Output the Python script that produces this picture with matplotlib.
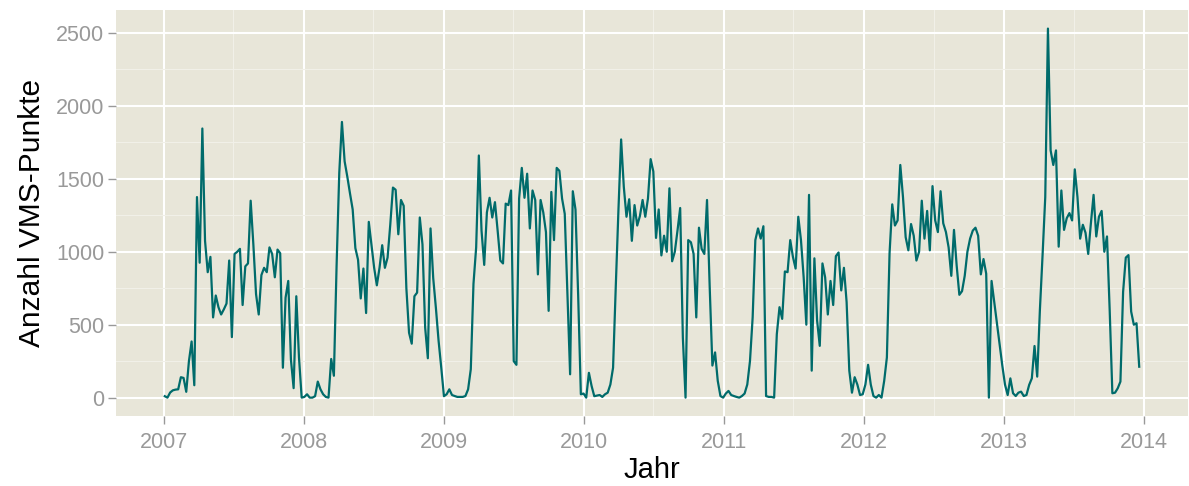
import numpy as np
import pandas as pd
import matplotlib
matplotlib.use("Agg")
import matplotlib.pyplot as plt
import matplotlib.dates as mdates
from matplotlib.ticker import MultipleLocator

# weekly VMS point counts (one list per stretch of ~a year)
v2007 = [10, 0, 35, 50, 55, 57, 140, 135, 40, 250, 385, 85, 1375, 925, 1845, 1075,
         860, 965, 550, 700, 620, 570, 605, 645, 940, 415, 985, 1000, 1020, 635, 900,
         920, 1350, 1050, 710, 570, 840, 890, 860, 1030, 985, 825, 1015, 990, 205, 685,
         800, 260, 65, 695, 275, 0]
v2008 = [5, 23, 0, 0, 10, 110, 57, 23, 5, 0, 265, 150, 900, 1540, 1890, 1620, 1515,
         1400, 1290, 1025, 945, 680, 885, 580, 1205, 1050, 890, 770, 890, 1045, 890, 960,
         1185, 1440, 1425, 1120, 1355, 1315, 750, 445, 370, 695, 720, 1235, 1050, 480,
         270, 1160, 820, 615, 390, 205, 10]
v2009 = [23, 57, 18, 11, 5, 5, 5, 11, 57, 195, 780, 1030, 1660, 1145, 910, 1270, 1370,
         1235, 1340, 1145, 940, 920, 1330, 1320, 1420, 250, 225, 1365, 1575, 1370, 1535,
         1160, 1420, 1355, 845, 1355, 1270, 1135, 595, 1410, 1080, 1575, 1555, 1365,
         1260, 700, 160, 1415, 1290, 700, 23, 28]
v2010 = [0, 170, 80, 10, 14, 18, 5, 23, 34, 90, 205, 757, 1285, 1770, 1445, 1240, 1360,
         1075, 1320, 1180, 1245, 1355, 1240, 1365, 1635, 1550, 1095, 1290, 975, 1110,
         1000, 1435, 935, 1000, 1145, 1300, 410, 0, 1080, 1065, 985, 550, 1165, 1020,
         985, 1355, 757, 220, 310, 115, 11]
v2011 = [0, 28, 46, 18, 11, 5, 0, 11, 28, 90, 250, 550, 1080, 1160, 1090, 1175, 11, 5,
         5, 0, 435, 620, 540, 865, 860, 1080, 965, 885, 1240, 1080, 825, 500, 1390, 185,
         955, 530, 355, 920, 825, 570, 800, 635, 970, 995, 735, 890, 655, 185, 34, 140,
         90, 18]
v2012 = [23, 90, 225, 90, 11, 0, 18, 0, 115, 275, 990, 1325, 1180, 1215, 1595, 1375,
         1100, 1010, 1190, 1110, 940, 1000, 1350, 1090, 1280, 1010, 1450, 1215, 1135,
         1415, 1195, 1135, 1030, 835, 1150, 905, 705, 730, 835, 1000, 1090, 1145, 1165,
         1110, 845, 950, 850, 0, 800, 655, 505, 365, 220]
v2013 = [90, 18, 132, 30, 11, 34, 41, 11, 18, 87, 132, 354, 144, 600, 977, 1375, 2530,
         1695, 1595, 1695, 1035, 1420, 1150, 1230, 1265, 1215, 1565, 1375, 1090, 1185,
         1130, 985, 1195, 1390, 1105, 1240, 1280, 1000, 1105, 600, 30, 34, 64, 110, 725,
         960, 977, 590, 500, 510, 212]

values = v2007 + v2008 + v2009 + v2010 + v2011 + v2012 + v2013
dates = pd.date_range("2007-01-04", periods=len(values), freq="7D")

bg = "#E8E6D9"
minor_c = "#F1F0E8"
tick_c = "#999999"

plt.rcParams["font.family"] = ["Liberation Sans", "DejaVu Sans"]

fig = plt.figure(figsize=(11.89, 4.86), dpi=100)
ax = fig.add_axes([0.0976, 0.144, 0.9015, 0.835])
ax.set_facecolor(bg)
for s in ax.spines.values():
    s.set_visible(False)

ax.plot(dates, values, color="#006B6B", lw=1.6, zorder=3)

# ggplot-style expansion
span = dates[-1] - dates[0]
ax.set_xlim(dates[0] - span * 0.05, dates[-1] + span * 0.05)
ax.set_ylim(-126, 2530 + 126)

ax.xaxis.set_major_locator(mdates.YearLocator())
ax.xaxis.set_major_formatter(mdates.DateFormatter("%Y"))
ax.xaxis.set_minor_locator(mdates.MonthLocator(bymonth=7))
ax.yaxis.set_major_locator(MultipleLocator(500))
ax.yaxis.set_minor_locator(MultipleLocator(250))

ax.grid(which="major", color="white", lw=1.5, zorder=1)
ax.grid(which="minor", color=minor_c, lw=0.8, zorder=0)
ax.set_axisbelow(True)

ax.tick_params(which="major", length=5.5, width=1, color=tick_c, labelcolor=tick_c,
               labelsize=15.5, pad=3)
ax.tick_params(axis="x", which="major", pad=6)
ax.tick_params(which="minor", length=0)

ax.set_xlabel("Jahr", fontsize=21, labelpad=2)
ax.set_ylabel("Anzahl VMS-Punkte", fontsize=21.5, labelpad=7)

fig.savefig("out.png", dpi=100)
